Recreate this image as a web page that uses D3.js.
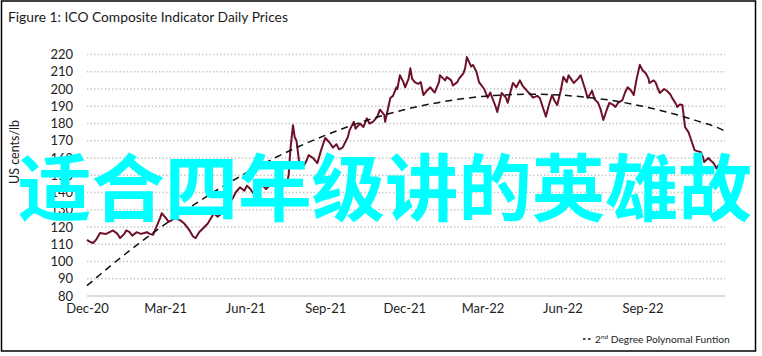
<!DOCTYPE html>
<html><head><meta charset="utf-8">
<script src="https://cdn.jsdelivr.net/npm/d3@7"></script>
<style>
html,body{margin:0;padding:0;background:#fff;}
svg{display:block;}
</style></head>
<body>
<svg id="chart" width="762" height="356"></svg>
<script>
const titleText = "Figure 1: ICO Composite Indicator Daily Prices";
const yAxisTitle = "US cents/lb";
const legendLabel = "2nd Degree Polynomal Funtion";
const watermark = "适合四年级讲的英雄故";
const xTickDates = ["2020-12-01","2021-03-01","2021-06-01","2021-09-01","2021-12-01","2022-03-01","2022-06-01","2022-09-01"];
const yTicks = [80,90,100,110,120,130,140,150,160,170,180,190,200,210,220];

const priceDates = ["2020-12-01","2020-12-04","2020-12-08","2020-12-12","2020-12-16","2020-12-23","2020-12-31","2021-01-05","2021-01-08","2021-01-13","2021-01-15","2021-01-19","2021-01-22","2021-01-27","2021-02-01","2021-02-08","2021-02-11","2021-02-15","2021-02-18","2021-02-23","2021-02-25","2021-03-02","2021-03-05","2021-03-12","2021-03-18","2021-03-23","2021-03-29","2021-04-02","2021-04-05","2021-04-09","2021-04-14","2021-04-19","2021-04-26","2021-04-30","2021-05-03","2021-05-07","2021-05-11","2021-05-14","2021-05-18","2021-05-21","2021-05-26","2021-05-31","2021-06-03","2021-06-07","2021-06-10","2021-06-14","2021-06-21","2021-06-25","2021-07-02","2021-07-08","2021-07-12","2021-07-16","2021-07-19","2021-07-21","2021-07-23","2021-07-26","2021-07-28","2021-07-30","2021-08-03","2021-08-08","2021-08-11","2021-08-13","2021-08-18","2021-08-23","2021-08-27","2021-09-01","2021-09-06","2021-09-10","2021-09-14","2021-09-17","2021-09-21","2021-09-27","2021-09-29","2021-10-04","2021-10-06","2021-10-11","2021-10-15","2021-10-19","2021-10-22","2021-10-26","2021-10-31","2021-11-03","2021-11-08","2021-11-09","2021-11-12","2021-11-15","2021-11-18","2021-11-22","2021-11-23","2021-11-26","2021-11-30","2021-12-02","2021-12-06","2021-12-08","2021-12-10","2021-12-13","2021-12-17","2021-12-20","2021-12-23","2021-12-27","2021-12-31","2022-01-03","2022-01-05","2022-01-10","2022-01-11","2022-01-17","2022-01-19","2022-01-24","2022-01-26","2022-01-31","2022-02-02","2022-02-07","2022-02-09","2022-02-11","2022-02-16","2022-02-18","2022-02-22","2022-02-25","2022-03-03","2022-03-07","2022-03-10","2022-03-11","2022-03-16","2022-03-18","2022-03-21","2022-03-23","2022-03-28","2022-03-30","2022-04-02","2022-04-05","2022-04-09","2022-04-13","2022-04-16","2022-04-21","2022-04-25","2022-04-28","2022-05-03","2022-05-06","2022-05-09","2022-05-13","2022-05-16","2022-05-20","2022-05-23","2022-05-26","2022-05-30","2022-06-02","2022-06-06","2022-06-08","2022-06-12","2022-06-14","2022-06-19","2022-06-22","2022-06-27","2022-06-30","2022-07-04","2022-07-05","2022-07-08","2022-07-12","2022-07-15","2022-07-18","2022-07-22","2022-07-25","2022-07-29","2022-08-01","2022-08-04","2022-08-09","2022-08-12","2022-08-15","2022-08-19","2022-08-22","2022-08-25","2022-08-29","2022-09-01","2022-09-05","2022-09-08","2022-09-09","2022-09-14","2022-09-16","2022-09-19","2022-09-21","2022-09-26","2022-09-29","2022-10-03","2022-10-05","2022-10-10","2022-10-11","2022-10-14","2022-10-17","2022-10-20","2022-10-24","2022-10-26","2022-10-31","2022-11-03","2022-11-07","2022-11-10","2022-11-11","2022-11-16","2022-11-18","2022-11-22","2022-11-25","2022-11-28"];
const priceValues = [112.5,111.5,110.7,113,116.5,116,118,116,113.6,116,118,117,115,117,116,117,116,115.5,119,125,128,125,123,125,124,122,118,114.5,113.6,117,119.4,122,128,126,127,131,135.7,134,137,140,143,141,144,142,139.7,142,144,142,145.5,143,146,144,145.5,150,165,179,172,170,154,156,159,161.7,160,157,164,171.6,169,166,168,165,166,172,176,181,177,180,178,183,180,181,184,188,185,181,188,194.8,196,201,200,208,204,201,206,212,206,204,203,204,196.5,199,201,199,198,204,208,205,207,205,202,204,206,209,212,218.5,213,214,210,204,200,195,198,196.5,190,186.7,193,197.7,195,192,198,203.5,201,205,202,199,197,195,196,194.8,190,184,190,196.5,193,190.7,199,207,204,208,205,203.5,206,208,200,194.8,198,199,194,192,188,182,188,192,191,189.6,192,193.6,198,201,199,196.5,205,214,211,209,206,203.5,205,204,200,197.7,200,199,197,195,191,189.6,191,190.7,178,175,172,164.6,164,163.5,160,157.7,160,158.8,157,154,156];

const trendDates = ["2020-12-01","2021-01-01","2021-02-01","2021-03-01","2021-04-01","2021-05-01","2021-06-01","2021-07-01","2021-08-01","2021-09-01","2021-10-01","2021-11-01","2021-12-01","2022-01-01","2022-02-01","2022-03-01","2022-04-01","2022-05-01","2022-06-01","2022-07-01","2022-08-01","2022-09-01","2022-10-01","2022-11-01","2022-12-01","2022-12-05"];
const trendValues = [86.0,99.1,111.3,121.7,132.3,141.9,151.0,159.0,166.5,173.1,178.8,183.9,188.0,191.4,194.0,195.7,196.7,197.0,196.4,195.1,193.0,190.0,186.4,181.8,176.6,175.6];

const parse = d3.timeParse("%Y-%m-%d");
const svg = d3.select("#chart");
const font = "Lato, 'Open Sans', sans-serif";

const x = d3.scaleTime().domain([parse("2020-12-01"), parse("2022-12-05")]).range([87, 725]);
const y = d3.scaleLinear().domain([80, 220]).range([296, 54.5]);

// border
svg.append("rect").attr("x",1.5).attr("y",1).attr("width",754).attr("height",350)
  .attr("fill","none").attr("stroke","#000").attr("stroke-width",1.5);

// title
svg.append("text").attr("x",8).attr("y",22).text(titleText)
  .attr("font-family",font).attr("font-size",13.8).attr("fill","#1a1a1a");

// gridlines
svg.append("g").selectAll("line").data(yTicks.filter(t=>t>80)).join("line")
  .attr("x1",87).attr("x2",725).attr("y1",d=>y(d)).attr("y2",d=>y(d))
  .attr("stroke","#c4c4c4").attr("stroke-width",1.3).attr("stroke-dasharray","1.4,2.2");
svg.append("line").attr("x1",87).attr("x2",725).attr("y1",y(80)).attr("y2",y(80))
  .attr("stroke","#d0d0d0").attr("stroke-width",1.5);

// y axis labels
const yAxis = d3.axisLeft(y).tickValues(yTicks).tickSize(0).tickPadding(0);
const gy = svg.append("g").attr("transform","translate(73,0)").call(yAxis);
gy.select(".domain").remove();
gy.selectAll("text").attr("font-family",font).attr("font-size",13).attr("fill","#222");

// x axis labels
const xAxis = d3.axisBottom(x).tickValues(xTickDates.map(parse)).tickFormat(d3.timeFormat("%b-%y")).tickSize(0).tickPadding(0);
const gx = svg.append("g").attr("transform","translate(0,304)").call(xAxis);
gx.select(".domain").remove();
gx.selectAll("text").attr("font-family",font).attr("font-size",13).attr("fill","#222").attr("dy","0.71em");

// y title
svg.append("text").attr("transform","translate(19,152) rotate(-90)").attr("text-anchor","middle")
  .text(yAxisTitle).attr("font-family",font).attr("font-size",12.5).attr("fill","#222");

// price line
const line = d3.line().x(d=>x(d.date)).y(d=>y(d.value));
const priceData = priceDates.map((d,i)=>({date:parse(d), value:priceValues[i]}));
svg.append("path").datum(priceData).attr("d",line)
  .attr("fill","none").attr("stroke","#6e1128").attr("stroke-width",2).attr("stroke-linejoin","round");

// trend
const trendData = trendDates.map((d,i)=>({date:parse(d), value:trendValues[i]}));
svg.append("path").datum(trendData).attr("d",line.curve(d3.curveMonotoneX))
  .attr("fill","none").attr("stroke","#111").attr("stroke-width",1.5).attr("stroke-dasharray","7,5");

// legend
const lg = svg.append("g");
lg.append("line").attr("x1",583).attr("x2",591).attr("y1",339).attr("y2",339)
  .attr("stroke","#111").attr("stroke-width",1.5).attr("stroke-dasharray","2.5,2.5");
const lt = lg.append("text").attr("x",595).attr("y",343).attr("font-family",font).attr("font-size",10.2).attr("fill","#222");
lt.append("tspan").text("2");
lt.append("tspan").text("nd").attr("font-size",6.5).attr("dy",-4);
lt.append("tspan").text(" Degree Polynomal Funtion").attr("dy",4);

// watermark
svg.append("text").attr("x",18).attr("y",215).text(watermark)
  .attr("font-family","'Noto Sans CJK SC', sans-serif").attr("font-weight",700)
  .attr("font-size",73).attr("fill","#00ffff").attr("textLength",734).attr("lengthAdjust","spacingAndGlyphs");
</script>
</body></html>
